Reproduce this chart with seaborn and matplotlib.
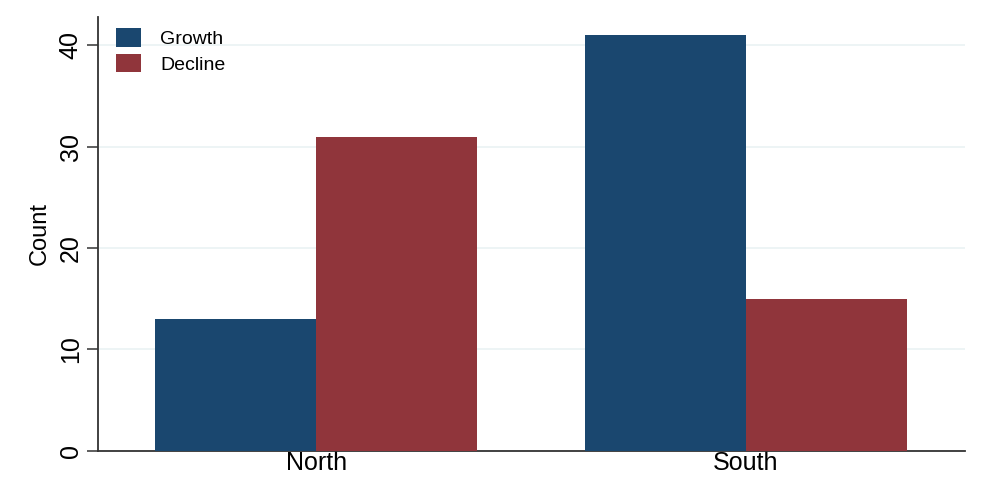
import pandas as pd
import matplotlib.pyplot as plt
import seaborn as sns

# values
regions = ['North', 'North', 'South', 'South']
trend = ['Growth', 'Decline', 'Growth', 'Decline']
counts = [13, 31, 41, 15]

df = pd.DataFrame({'Region': regions, 'Trend': trend, 'Count': counts})

sns.set_style('white')
plt.rcParams['font.family'] = ['Liberation Sans', 'DejaVu Sans']
plt.rcParams['text.color'] = 'black'

fig, ax = plt.subplots(figsize=(9.91, 4.96), dpi=100)
fig.subplots_adjust(left=0.099, right=0.974, top=0.966, bottom=0.091)

sns.barplot(data=df, x='Region', y='Count', hue='Trend',
            palette={'Growth': '#1a476f', 'Decline': '#90353b'},
            width=0.75, saturation=1, linewidth=0, ax=ax, zorder=3)

ax.set_xlim(-0.507, 1.51)
ax.set_ylim(0, 42.8)
ax.set_yticks([0, 10, 20, 30, 40])
ax.yaxis.grid(True, color='#eaf2f3', linewidth=1.2, zorder=0)
ax.set_axisbelow(True)

for side in ['top', 'right']:
    ax.spines[side].set_visible(False)
for side in ['left', 'bottom']:
    ax.spines[side].set_color('#333333')
    ax.spines[side].set_linewidth(1.3)

ax.tick_params(axis='y', length=8, width=1.1, color='#333333', labelsize=18,
               labelcolor='black', left=True, pad=3)
ax.tick_params(axis='x', length=0, labelsize=18, labelcolor='black', pad=0)
plt.setp(ax.get_yticklabels(), rotation=90, va='center')

ax.set_xlabel('')
ax.set_ylabel('Count', fontsize=17, color='black', labelpad=6)

ax.legend(title=None, frameon=False, loc='upper left', fontsize=14,
          handlelength=1.3, handleheight=1.1, handletextpad=1.0,
          labelspacing=0.3, bbox_to_anchor=(0.0, 1.015))

plt.savefig('out.png')
